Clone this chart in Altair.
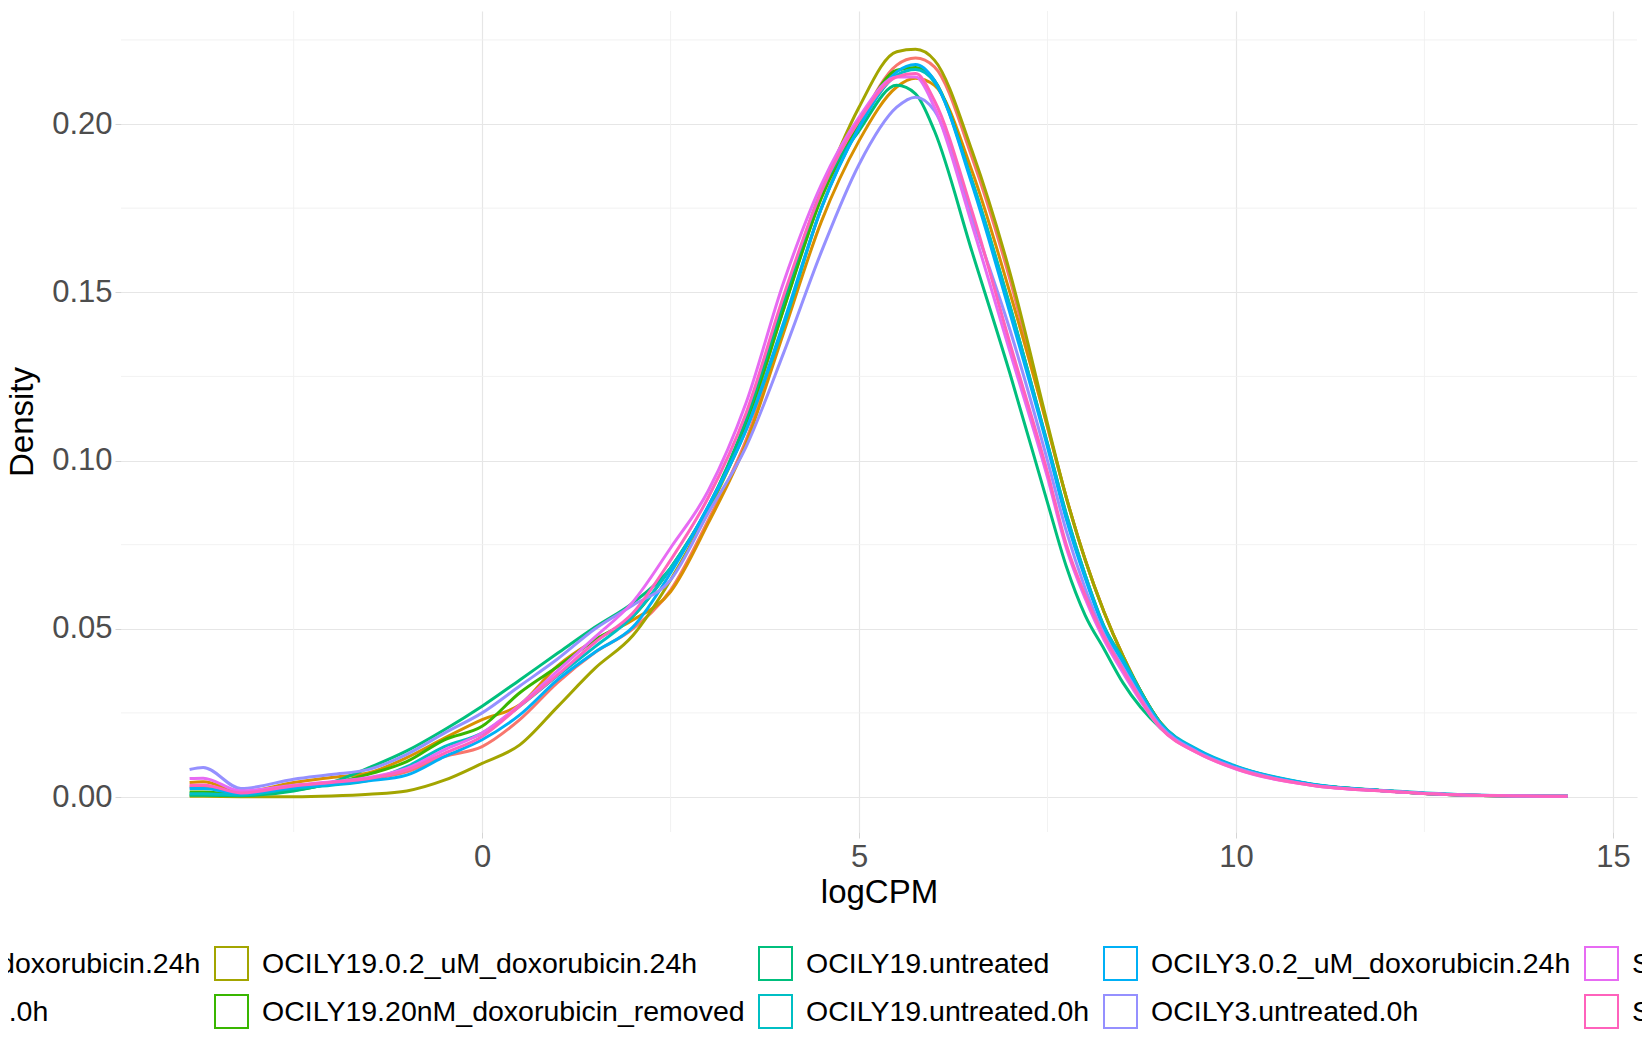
import altair as alt
import pandas as pd

# Amostras (ordem alfabética, como no ggplot)
samples = [
    "HBL1.0.2_uM_doxorubicin.24h",
    "HBL1.untreated.0h",
    "OCILY19.0.2_uM_doxorubicin.24h",
    "OCILY19.20nM_doxorubicin_removed",
    "OCILY19.untreated",
    "OCILY19.untreated.0h",
    "OCILY3.0.2_uM_doxorubicin.24h",
    "OCILY3.untreated.0h",
    "SUDHL4.0.2_uM_doxorubicin.24h",
    "SUDHL4.untreated.0h",
]
hue_colors = ["#F8766D", "#D89000", "#A3A500", "#39B600", "#00BF7D",
              "#00BFC4", "#00B0F6", "#9590FF", "#E76BF3", "#FF62BC"]

# Eixo x comum para as curvas de densidade
log_cpm = [-3.88, -3.7, -3.2, -2.5, -2, -1.5, -1, -0.5, 0, 0.5, 1, 1.5, 2, 2.5, 3,
           3.5, 4, 4.5, 5, 5.5, 5.75, 6, 6.5, 7, 7.5, 7.75, 8, 8.25, 8.5, 9, 9.5,
           10, 11, 12, 13, 14.4]

dens_red = [0.0030, 0.0030, 0.0012, 0.0033, 0.0043, 0.0053, 0.0075, 0.012, 0.015, 0.023,
            0.034, 0.043, 0.050, 0.0615, 0.0823, 0.106, 0.140, 0.175, 0.200, 0.2175,
            0.2196, 0.2170, 0.190, 0.154, 0.110, 0.089, 0.0705, 0.055, 0.042, 0.022,
            0.0135, 0.0088, 0.0037, 0.0018, 0.0006, 0.0002]
dens_orange = [0.0043, 0.0045, 0.0015, 0.0043, 0.0058, 0.0072, 0.0117, 0.0175, 0.023, 0.0274,
               0.039, 0.0467, 0.0526, 0.061, 0.0814, 0.105, 0.138, 0.171, 0.195, 0.2110,
               0.2136, 0.2115, 0.186, 0.150, 0.110, 0.089, 0.0705, 0.055, 0.042, 0.022,
               0.0135, 0.0088, 0.0037, 0.0018, 0.0006, 0.0002]
dens_olive = [0.0002, 0.0002, 0.0001, 0.0001, 0.0003, 0.0008, 0.0018, 0.005, 0.010, 0.0155,
              0.0268, 0.0383, 0.048, 0.0645, 0.085, 0.110, 0.145, 0.179, 0.205, 0.2215,
              0.2222, 0.2190, 0.192, 0.156, 0.111, 0.089, 0.0705, 0.055, 0.042, 0.022,
              0.0135, 0.0088, 0.0037, 0.0018, 0.0006, 0.0002]
dens_green = [0.0015, 0.0015, 0.0008, 0.0020, 0.0040, 0.0068, 0.0105, 0.017, 0.021, 0.031,
              0.0387, 0.0467, 0.0537, 0.068, 0.0862, 0.111, 0.145, 0.178, 0.200, 0.2160,
              0.2168, 0.2130, 0.183, 0.146, 0.105, 0.084, 0.066, 0.0507, 0.041, 0.022,
              0.0135, 0.0088, 0.0037, 0.0018, 0.0006, 0.0002]
dens_teal = [0.0005, 0.0005, 0.0004, 0.0018, 0.0043, 0.0087, 0.0137, 0.020, 0.027, 0.0348,
             0.0427, 0.0505, 0.0577, 0.068, 0.0862, 0.112, 0.147, 0.180, 0.198, 0.2115,
             0.2090, 0.1980, 0.162, 0.126, 0.0875, 0.0685, 0.054, 0.044, 0.034, 0.0205,
             0.0135, 0.009, 0.0038, 0.0018, 0.0006, 0.0002]
dens_cyan = [0.0010, 0.0010, 0.0006, 0.0025, 0.0035, 0.0050, 0.009, 0.015, 0.019, 0.027,
             0.036, 0.0447, 0.0537, 0.068, 0.086, 0.109, 0.140, 0.175, 0.199, 0.2145,
             0.2162, 0.2125, 0.183, 0.146, 0.105, 0.084, 0.066, 0.0507, 0.041, 0.022,
             0.014, 0.0092, 0.0039, 0.0019, 0.0007, 0.0002]
dens_blue = [0.0025, 0.0025, 0.0010, 0.0028, 0.0038, 0.0048, 0.0065, 0.012, 0.017, 0.0244,
             0.0348, 0.0431, 0.0505, 0.0666, 0.0865, 0.109, 0.141, 0.175, 0.199, 0.2155,
             0.2177, 0.2130, 0.182, 0.144, 0.104, 0.0825, 0.065, 0.050, 0.040, 0.0215,
             0.0138, 0.009, 0.0038, 0.0018, 0.0006, 0.0002]
dens_purple = [0.0082, 0.0088, 0.0025, 0.0053, 0.0067, 0.0082, 0.0127, 0.019, 0.025, 0.033,
               0.041, 0.050, 0.057, 0.0645, 0.0844, 0.104, 0.132, 0.162, 0.188, 0.2050,
               0.2080, 0.2040, 0.172, 0.139, 0.100, 0.079, 0.062, 0.0483, 0.0385, 0.021,
               0.0133, 0.0087, 0.0036, 0.0018, 0.0007, 0.0003]
dens_magenta = [0.0055, 0.0056, 0.0018, 0.0035, 0.0045, 0.0058, 0.0085, 0.014, 0.019, 0.0274,
                0.0375, 0.0476, 0.058, 0.074, 0.091, 0.117, 0.153, 0.182, 0.202, 0.2140,
                0.2140, 0.2050, 0.170, 0.1325, 0.095, 0.074, 0.059, 0.0467, 0.037, 0.0205,
                0.013, 0.0083, 0.0035, 0.0017, 0.0006, 0.0002]
dens_pink = [0.0035, 0.0036, 0.0012, 0.0033, 0.0043, 0.0055, 0.008, 0.013, 0.018, 0.027,
             0.0363, 0.046, 0.0547, 0.0704, 0.089, 0.114, 0.149, 0.180, 0.201, 0.2140,
             0.2150, 0.2070, 0.174, 0.135, 0.0965, 0.075, 0.060, 0.0477, 0.038, 0.0205,
             0.013, 0.0084, 0.0035, 0.0017, 0.0006, 0.0002]

all_dens = [dens_red, dens_orange, dens_olive, dens_green, dens_teal,
            dens_cyan, dens_blue, dens_purple, dens_magenta, dens_pink]

# grade secundária (ggplot theme_minimal)
minor_x = [-2.5, 2.5, 7.5, 12.5]
minor_y = [0.025, 0.075, 0.125, 0.175, 0.225]
major_x = [0, 5, 10, 15]
major_y = [0.0, 0.05, 0.10, 0.15, 0.20]

# formato longo
rows = []
for name, dens in zip(samples, all_dens):
    for x, y in zip(log_cpm, dens):
        rows.append({"Sample": name, "logCPM": x, "density": y})
df = pd.DataFrame(rows)

# legenda preenchida por coluna (2 linhas), como no ggplot
legend_order = samples[0::2] + samples[1::2]
legend_colors = hue_colors[0::2] + hue_colors[1::2]

x_scale = alt.Scale(domain=[-4.79, 15.32], nice=False, zero=False)
y_scale = alt.Scale(domain=[-0.0104, 0.2336], nice=False, zero=False)

grid_x = alt.Chart(pd.DataFrame({"logCPM": minor_x})).mark_rule(
    color="#F0F0F0", strokeWidth=0.9
).encode(x=alt.X("logCPM:Q", scale=x_scale))

grid_y = alt.Chart(pd.DataFrame({"density": minor_y})).mark_rule(
    color="#F0F0F0", strokeWidth=0.9
).encode(y=alt.Y("density:Q", scale=y_scale))

lines = alt.Chart(df).mark_line(strokeWidth=3.0, interpolate="monotone").encode(
    x=alt.X("logCPM:Q", scale=x_scale,
            axis=alt.Axis(values=major_x, format="d", title="logCPM",
                          labelPadding=4, titlePadding=4)),
    y=alt.Y("density:Q", scale=y_scale,
            axis=alt.Axis(values=major_y, format=".2f", title="Density",
                          labelPadding=3, titlePadding=12)),
    color=alt.Color("Sample:N",
                    scale=alt.Scale(domain=legend_order, range=legend_colors),
                    legend=alt.Legend(orient="none", legendX=-360, legendY=935,
                                      direction="horizontal", columns=5, title=None,
                                      symbolType="square", symbolSize=1089,
                                      symbolStrokeWidth=2, symbolFillColor="white",
                                      labelFontSize=28.5, labelColor="black",
                                      labelOffset=13, labelLimit=1000,
                                      columnPadding=10, rowPadding=7, padding=0)),
    detail="Sample:N",
)

chart = alt.layer(grid_x, grid_y, lines).properties(
    width=1516,
    height=821,
    padding={"left": 113, "top": 3, "right": 5, "bottom": 210},
    autosize=alt.AutoSizeParams(type="none"),
).configure(
    font="Liberation Sans"
).configure_view(
    stroke=None
).configure_axis(
    domain=False,
    grid=True,
    gridColor="#E6E6E6",
    gridWidth=1.2,
    ticks=True,
    tickColor="#D5D5D5",
    tickSize=6,
    labelFontSize=31,
    labelColor="#4D4D4D",
    titleFontSize=33,
    titleColor="black",
    titleFontWeight="normal",
)

chart.save("out.html", embed_options={"renderer": "svg", "actions": False})
